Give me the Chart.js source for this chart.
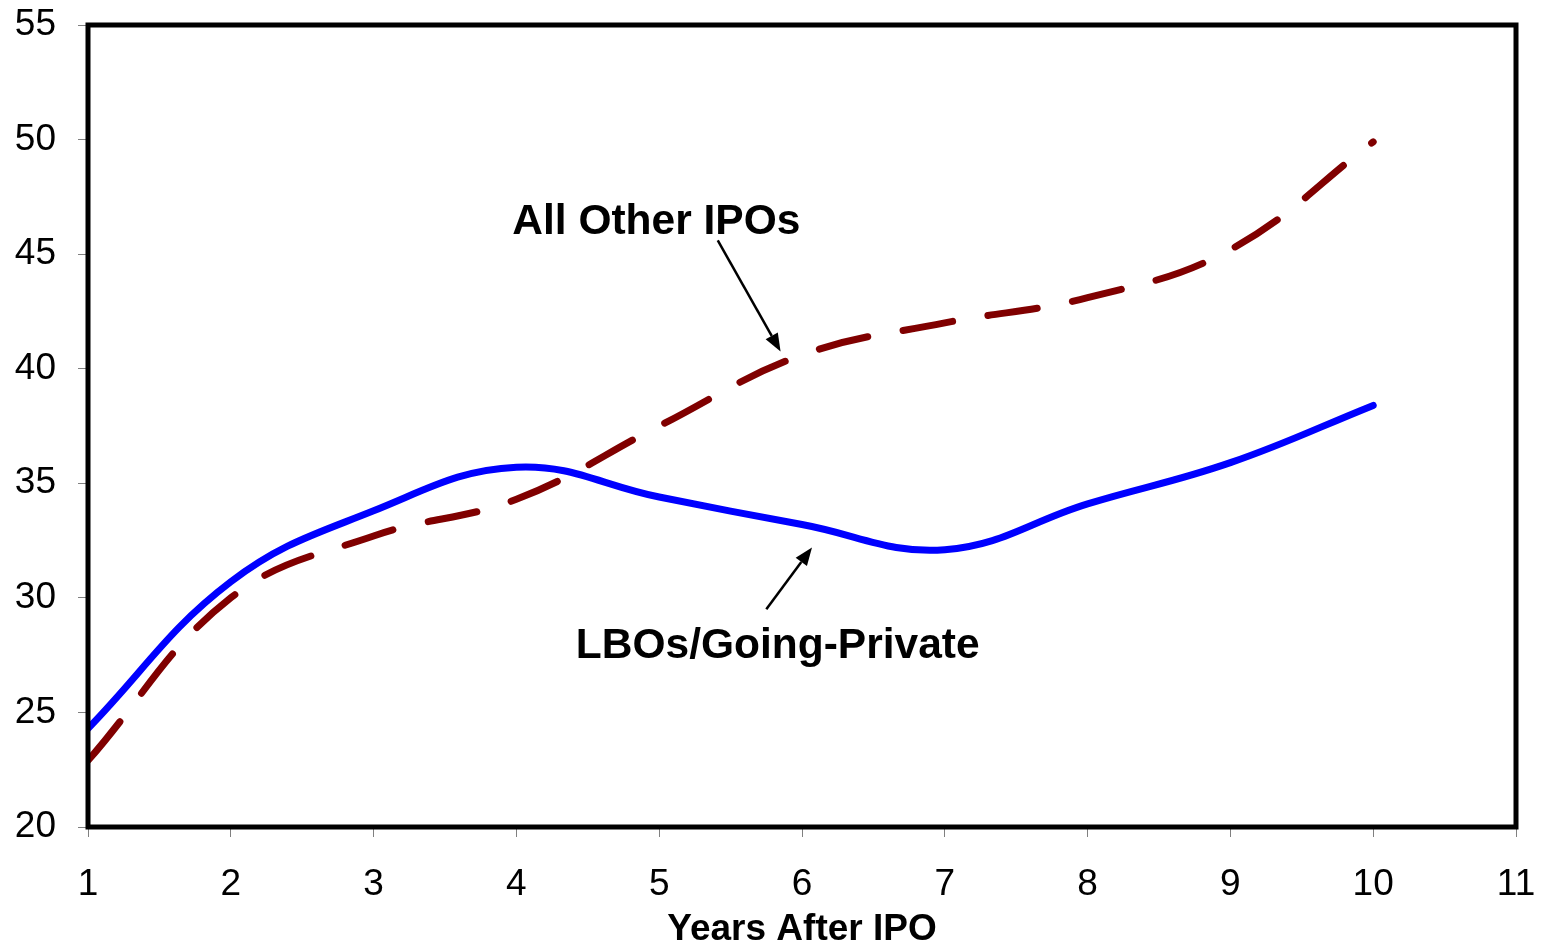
<!DOCTYPE html>
<html>
<head>
<meta charset="utf-8">
<script src="https://cdn.jsdelivr.net/npm/chart.js@4/dist/chart.umd.min.js"></script>
<style>
  html, body { margin: 0; padding: 0; background: #fff; }
  #wrap { width: 1543px; height: 947px; position: relative; }
</style>
</head>
<body>
<div id="wrap"><canvas id="myChart"></canvas></div>
<script>
// Data
const years = [1, 2, 3, 4, 5, 6, 7, 8, 9, 10];
const lboValues = [24.3, 30.7, 33.8, 35.7, 34.4, 33.2, 32.1, 34.1, 35.9, 38.4];
const otherIpoValues = [22.9, 30.0, 32.7, 34.3, 37.5, 40.6, 42.0, 43.1, 45.2, 49.9];

const FONT = "'Liberation Sans', Arial, Helvetica, sans-serif";

// labels with arrows, placed in data units
const notes = [
  { text: 'All Other IPOs', x: 4.98, y: 46.4, from: [5.41, 45.6], to: [5.85, 40.75] },
  { text: 'LBOs/Going-Private', x: 5.83, y: 27.9, from: [5.75, 29.5], to: [6.07, 32.2] }
];

const frameAndNotes = {
  id: 'frameAndNotes',
  afterDatasetsDraw(chart) {
    const ctx = chart.ctx;
    const a = chart.chartArea;
    const xs = chart.scales.x;
    const ys = chart.scales.y;
    ctx.save();
    // plot box
    ctx.strokeStyle = '#000';
    ctx.lineWidth = 5;
    ctx.strokeRect(a.left, a.top, a.right - a.left, a.bottom - a.top);

    ctx.fillStyle = '#000';
    ctx.font = 'bold 42.5px ' + FONT;
    ctx.textAlign = 'center';
    ctx.textBaseline = 'middle';
    notes.forEach(function (n) {
      ctx.fillText(n.text, xs.getPixelForValue(n.x), ys.getPixelForValue(n.y));
      const x1 = xs.getPixelForValue(n.from[0]), y1 = ys.getPixelForValue(n.from[1]);
      const x2 = xs.getPixelForValue(n.to[0]), y2 = ys.getPixelForValue(n.to[1]);
      const ang = Math.atan2(y2 - y1, x2 - x1);
      const head = 18, half = 7;
      ctx.lineWidth = 2.5;
      ctx.beginPath();
      ctx.moveTo(x1, y1);
      ctx.lineTo(x2 - head * Math.cos(ang), y2 - head * Math.sin(ang));
      ctx.stroke();
      ctx.beginPath();
      ctx.moveTo(x2, y2);
      ctx.lineTo(x2 - head * Math.cos(ang) + half * Math.sin(ang), y2 - head * Math.sin(ang) - half * Math.cos(ang));
      ctx.lineTo(x2 - head * Math.cos(ang) - half * Math.sin(ang), y2 - head * Math.sin(ang) + half * Math.cos(ang));
      ctx.closePath();
      ctx.fill();
    });
    ctx.restore();
  }
};

const ctx = document.getElementById('myChart').getContext('2d');
const myChart = new Chart(ctx, {
  type: 'line',
  data: {
    datasets: [{
      label: 'LBOs/Going-Private',
      data: years.map((y, i) => ({ x: y, y: lboValues[i] })),
      borderColor: '#0000ff',
      borderWidth: 7,
      borderCapStyle: 'round',
      pointRadius: 0,
      tension: 0.4
    }, {
      label: 'All Other IPOs',
      data: years.map((y, i) => ({ x: y, y: otherIpoValues[i] })),
      borderColor: '#800000',
      borderWidth: 7,
      borderDash: [50, 36],
      borderCapStyle: 'round',
      pointRadius: 0,
      tension: 0.4
    }]
  },
  options: {
    responsive: true,
    maintainAspectRatio: false,
    animation: false,
    layout: { padding: { top: 25, right: 27, left: 0, bottom: 0 } },
    plugins: {
      legend: { display: false },
      tooltip: { enabled: false }
    },
    scales: {
      x: {
        type: 'linear',
        min: 1,
        max: 11,
        afterFit(scale) {
          scale.height = 120;
          scale.paddingLeft = 0;
          scale.paddingRight = 0;
        },
        ticks: { stepSize: 1, color: '#000', padding: 26, font: { family: FONT, size: 37 } },
        grid: { drawOnChartArea: false, drawTicks: true, tickLength: 10, color: '#808080' },
        border: { display: false },
        title: {
          display: true,
          text: 'Years After IPO',
          color: '#000',
          padding: { top: 0, bottom: -5 },
          font: { family: FONT, size: 37, weight: 'bold' }
        }
      },
      y: {
        min: 20,
        max: 55,
        afterFit(scale) {
          scale.width = 88;
          scale.paddingTop = 0;
          scale.paddingBottom = 0;
        },
        ticks: { stepSize: 5, color: '#000', padding: 22, font: { family: FONT, size: 37 } },
        grid: { drawOnChartArea: false, drawTicks: true, tickLength: 10, color: '#808080' },
        border: { display: false }
      }
    }
  },
  plugins: [frameAndNotes]
});
</script>
</body>
</html>
